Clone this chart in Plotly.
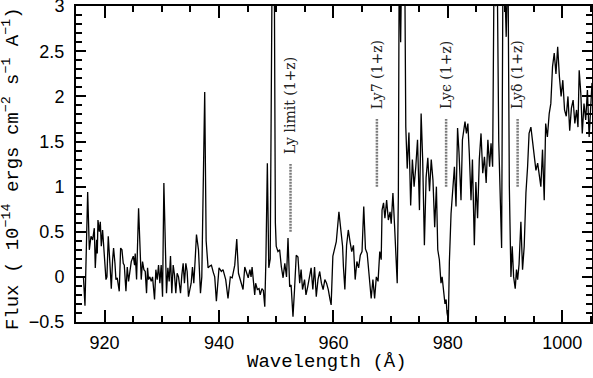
import plotly.graph_objects as go

# spectrum (wavelength in Angstrom, flux in 1e-14 erg/cm2/s/A)
wave = [
    916.3, 916.57, 917.04, 917.33, 917.62, 917.91, 918.2, 918.37, 918.61, 918.72,
    918.84, 919.07, 919.25, 919.42, 919.65, 919.89, 920.24, 920.41, 920.64, 920.93,
    921.17, 921.4, 921.57, 921.81, 921.98, 922.21, 922.56, 922.8, 923.03, 923.26,
    923.44, 923.73, 923.96, 924.19, 924.42, 924.66, 925.01, 925.24, 925.35, 925.59,
    925.94, 926.23, 926.4, 926.63, 926.87, 927.1, 927.33, 927.51, 927.68, 927.91,
    928.15, 928.38, 928.73, 928.96, 929.19, 929.43, 929.66, 929.89, 930.13, 930.36,
    930.59, 930.82, 931.06, 931.29, 931.52, 931.75, 931.99, 932.22, 932.45, 932.68,
    932.92, 933.27, 933.5, 933.73, 933.96, 934.2, 934.43, 934.66, 934.9, 935.13,
    935.36, 935.59, 935.83, 936.06, 936.41, 936.76, 936.99, 937.22, 937.5, 937.75,
    938.09, 938.4, 938.67, 939.0, 939.25, 939.54, 940.0, 940.41, 940.7, 941.17,
    941.57, 941.98, 942.3, 942.75, 943.1, 943.4, 943.6, 943.9, 944.2, 944.5,
    944.8, 945.1, 945.4, 945.6, 945.78, 946.0, 946.24, 946.4, 946.7, 947.0,
    947.2, 947.5, 947.75, 948.0, 948.2, 948.45, 948.7, 948.95, 949.3, 949.45,
    949.65, 949.85, 950.0, 950.3, 950.6, 950.9, 951.2, 951.5, 951.8, 952.06,
    952.35, 952.6, 952.93, 953.2, 953.5, 953.8, 954.1, 954.35, 954.6, 954.95,
    955.2, 955.5, 955.8, 956.1, 956.4, 956.7, 957.0, 957.3, 957.6, 957.9,
    958.2, 958.5, 958.8, 959.1, 959.4, 959.6, 959.9, 960.2, 960.5, 960.96,
    961.4, 961.6, 961.75, 962.0, 962.3, 962.6, 962.9, 963.2, 963.5, 963.8,
    964.1, 964.4, 964.7, 965.0, 965.3, 965.6, 965.9, 966.2, 966.6, 966.9,
    967.2, 967.5, 967.8, 968.1, 968.35, 968.5, 968.76, 969.0, 969.3, 969.6,
    969.9, 970.1, 970.4, 970.7, 970.97, 971.15, 971.35, 971.5, 971.75, 971.95,
    972.2, 972.45, 972.65, 972.9, 973.2, 973.5, 973.8, 974.1, 974.4, 974.7,
    975.04, 975.33, 975.6, 975.9, 976.2, 976.5, 976.8, 977.1, 977.4, 977.7,
    978.0, 978.24, 978.52, 978.8, 979.0, 979.28, 979.5, 979.7, 979.86, 980.09,
    980.27, 980.56, 980.85, 981.15, 981.43, 981.7, 981.95, 982.3, 982.55, 982.8,
    983.0, 983.25, 983.5, 983.75, 984.05, 984.3, 984.63, 984.9, 985.2, 985.5,
    985.8, 986.1, 986.4, 986.7, 987.0, 987.3, 987.55, 987.83, 988.1, 988.35,
    988.6, 988.9, 989.2, 989.4, 989.65, 989.9, 990.2, 990.5, 990.75, 991.03,
    991.25, 991.5, 991.78, 992.0, 992.2, 992.45, 992.77, 993.06, 993.35, 993.65,
    993.94, 994.2, 994.52, 994.8, 995.1, 995.4, 995.7, 996.0, 996.26, 996.55,
    996.85, 997.1, 997.4, 997.72, 998.0, 998.3, 998.6, 998.9, 999.2, 999.5,
    999.8, 1000.1, 1000.4, 1000.7, 1001.0, 1001.3, 1001.6, 1001.9, 1002.2, 1002.5,
    1002.75, 1002.96, 1003.25, 1003.5, 1003.8, 1004.1, 1004.4, 1004.7, 1005.0, 1005.2,
]
flux = [
    0.0, -0.32, 0.94, 0.3, 0.45, 0.41, 0.54, 0.1, 0.41, 0.26,
    0.63, 0.5, 0.61, 0.34, 0.52, 0.3, -0.03, 0.0, 0.45, 0.15,
    -0.13, 0.19, 0.32, 0.15, -0.03, -0.01, -0.16, 0.32, 0.3, 0.15,
    0.13, -0.16, 0.11, -0.05, 0.1, 0.17, 0.23, 0.13, 0.26, -0.03,
    0.76, 0.35, -0.03, 0.17, 0.08, 0.06, -0.18, 0.1, -0.03, 0.0,
    -0.05, 0.0, -0.25, 0.08, -0.03, 0.13, -0.07, 0.13, -0.22, 1.04,
    0.3, -0.18, 0.1, -0.05, 0.23, -0.18, 0.13, 0.02, -0.18, 0.04,
    0.0, -0.18, 0.02, 0.15, -0.07, 0.15, 0.06, -0.22, -0.14, -0.07,
    0.11, -0.07, 0.19, 0.47, 0.3, -0.18, 0.0, 0.82, 2.05, 0.4,
    0.1, 0.12, 0.13, 0.05, 0.0, -0.27, 0.1, 0.06, 0.08, -0.03,
    -0.24, 0.0, -0.01, 0.13, 0.42, 0.04, 0.0, -0.07, -0.14, 0.11,
    0.04, -0.01, 0.08, 0.0, 0.11, -0.03, -0.2, -0.07, -0.14, -0.13,
    -0.2, -0.13, -0.15, -0.33, 0.2, 1.26, 0.1, 0.2, 3.6, 3.1,
    3.6, 0.6, 0.34, 0.28, 0.3, 0.11, -0.01, 0.15, 0.0, 0.43,
    -0.11, -0.09, -0.44, -0.14, 0.24, 0.22, -0.07, 0.08, -0.14, -0.03,
    -0.2, -0.11, -0.01, 0.1, -0.14, 0.11, -0.22, -0.03, 0.06, -0.07,
    -0.14, -0.03, -0.07, -0.14, -0.25, -0.31, 0.23, 0.3, 0.39, 0.72,
    0.48, 0.34, 0.11, -0.14, 0.35, 0.52, 0.39, 0.28, 0.35, -0.03,
    0.17, 0.1, 0.24, 0.28, 0.78, 0.31, 0.26, 0.06, -0.24, -0.03,
    -0.24, 0.0, -0.05, 0.28, 0.19, 0.74, 0.82, 0.65, 0.85, 0.63,
    0.72, 0.59, 0.93, 0.55, 0.23, -0.07, 0.9, 3.6, 2.6, 3.6,
    3.4, 3.6, 1.66, 1.2, 1.6, 0.79, 1.3, 1.0, 1.22, 1.52,
    0.74, 1.81, 1.3, 0.35, 1.1, 1.32, 0.95, 1.3, 1.07, 0.55,
    1.0, 0.3, 0.19, -0.07, 0.0, -0.22, -0.3, -0.25, -0.4, -0.48,
    0.17, 0.7, 1.0, 1.22, 0.78, 1.65, 1.38, 0.85, 1.52, 1.66,
    1.72, 1.59, 1.7, 1.37, 0.85, 1.3, 0.35, 1.05, 0.65, 1.3,
    1.59, 1.15, 1.33, 1.04, 1.52, 1.22, 1.48, 1.22, 3.6, 3.0,
    3.6, 1.5, 0.6, 0.32, 3.6, 3.4, 2.66, 3.6, 1.0, 0.0,
    0.34, 0.0, -0.13, 0.08, -0.03, 0.14, 0.61, 0.08, 0.34, 0.93,
    1.22, 1.59, 1.66, 1.52, 1.33, 1.18, 1.26, 1.11, 1.0, 1.41,
    0.85, 1.7, 1.55, 1.81, 1.92, 2.33, 2.48, 2.25, 2.55, 2.22,
    2.0, 2.18, 1.85, 1.78, 2.0, 1.62, 1.87, 1.96, 1.7, 1.85,
    1.66, 2.29, 2.03, 1.59, 1.92, 1.74, 2.07, 1.55, 1.85, 2.15,
]

# redshifted Lyman features (1+z) markers
line_names = ["Ly limit (1+z)", "Ly7 (1+z)", "Lyϵ (1+z)", "Lyδ (1+z)"]
line_wave = [952.5, 967.6, 979.7, 992.2]
line_low = [0.5, 1.0, 1.0, 1.0]
line_high = [1.25, 1.75, 1.75, 1.75]

fig = go.Figure()

mx, my = [], []
for w, lo, hi in zip(line_wave, line_low, line_high):
    mx += [w, w, None]
    my += [lo, hi, None]
fig.add_trace(go.Scatter(x=mx, y=my, mode="lines",
                         line=dict(color="#7a7a7a", width=2.5, dash="2px,1px"),
                         hoverinfo="skip"))

fig.add_trace(go.Scatter(x=wave, y=flux, mode="lines",
                         line=dict(color="black", width=1.3)))

annotations = []
for name, w, hi in zip(line_names, line_wave, line_high):
    annotations.append(dict(
        x=w, y=hi + 0.09, xref="x", yref="y", text=name, showarrow=False,
        textangle=-90, xanchor="center", yanchor="bottom",
        font=dict(family="DejaVu Serif", size=14, color="#222")))

annotations.append(dict(
    x=0.486, y=-0.128, xref="paper", yref="paper", text="Wavelength (Å)",
    showarrow=False, xanchor="center", yanchor="middle",
    font=dict(family="Liberation Mono", size=19, color="black")))
annotations.append(dict(
    x=-0.126, y=0.487, xref="paper", yref="paper", textangle=-90,
    text="Flux ( 10<sup>−14</sup> ergs cm<sup>−2</sup> s<sup>−1</sup> A<sup>−1</sup>)",
    showarrow=False, xanchor="center", yanchor="middle",
    font=dict(family="Liberation Mono", size=19, color="black")))

axis_common = dict(
    showline=True, linecolor="black", linewidth=2, mirror="allticks",
    ticks="inside", tickcolor="black", tickwidth=1.5,
    showgrid=False, zeroline=False, automargin=False,
    ticklabeloverflow="allow",
    tickfont=dict(family="Liberation Sans", size=18, color="black"),
)

fig.update_layout(
    width=593, height=378,
    margin=dict(l=76, r=1, t=6, b=56, autoexpand=False),
    paper_bgcolor="white", plot_bgcolor="white",
    showlegend=False,
    annotations=annotations,
    xaxis=dict(range=[915, 1005.2], tick0=920, dtick=20, ticklen=12,
               ticklabelstandoff=3,
               minor=dict(dtick=5, tick0=920, ticklen=6, ticks="inside",
                          tickcolor="black", tickwidth=1.5, showgrid=False),
               **axis_common),
    yaxis=dict(range=[-0.5, 3.002], tick0=0, dtick=0.5, ticklen=10,
               ticklabelstandoff=6,
               minor=dict(dtick=0.1, tick0=0, ticklen=6, ticks="inside",
                          tickcolor="black", tickwidth=1.5, showgrid=False),
               **axis_common),
)

# drop the default page margin so the figure sits at the window's corner
fig.write_html("out.html", config={"displayModeBar": False},
               post_script="document.body.style.margin='0';")
